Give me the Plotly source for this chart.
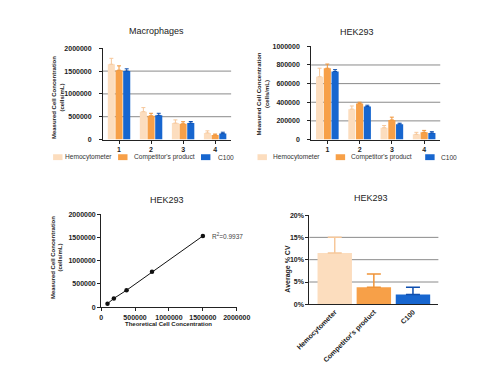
import plotly.graph_objects as go

W, H = 483, 367
def fx(x): return x / W
def fy(y): return 1 - y / H

# ---------------- data ----------------
groups = ["1", "2", "3", "4"]
series = ["Hemocytometer", "Competitor's product", "C100"]
colors = ["#FCDDBE", "#F7A048", "#1766CF"]
err_colors = ["#F6C79A", "#F09438", "#0E4EAE"]

mac_hemo = [1650000, 610000, 360000, 145000]
mac_hemo_err = [130000, 90000, 70000, 45000]
mac_comp = [1520000, 520000, 345000, 100000]
mac_comp_err = [95000, 55000, 45000, 20000]
mac_c100 = [1500000, 530000, 360000, 130000]
mac_c100_err = [50000, 45000, 35000, 30000]

hek_hemo = [674000, 326000, 126000, 56000]
hek_hemo_err = [91000, 34000, 24000, 21000]
hek_comp = [765000, 386000, 210000, 77000]
hek_comp_err = [45000, 14000, 30000, 21000]
hek_c100 = [730000, 354000, 165000, 70000]
hek_c100_err = [20000, 14000, 10000, 14000]

theo_conc = [93750, 187500, 375000, 750000, 1500000]
meas_conc = [77000, 190000, 365000, 760000, 1530000]
r2_text = "R<sup>2</sup>=0.9937"

cv_methods = ["Hemocytometer", "Competitor's product", "C100"]
cv_values = [11.5, 3.8, 2.2]
cv_err = [3.5, 3.0, 1.6]

mac_ticks = [0, 500000, 1000000, 1500000, 2000000]
mac_ticktext = ["0", "500000", "1000000", "1500000", "2000000"]
hek_ticks = [0, 200000, 400000, 600000, 800000, 1000000]
hek_ticktext = ["0", "200000", "400000", "600000", "800000", "1000000"]
lin_ticks = [0, 500000, 1000000, 1500000, 2000000]
lin_ticktext = ["0", "500000", "1000000", "1500000", "2000000"]
cv_ticks = [0, 5, 10, 15, 20]
cv_ticktext = ["0%", "5%", "10%", "15%", "20%"]

# ---------------- figure ----------------
fig = go.Figure()
FONT = "Liberation Sans, Arial, sans-serif"
TXT = "#222222"

mac_vals = [(mac_hemo, mac_hemo_err), (mac_comp, mac_comp_err), (mac_c100, mac_c100_err)]
hek_vals = [(hek_hemo, hek_hemo_err), (hek_comp, hek_comp_err), (hek_c100, hek_c100_err)]

for (vals, errs), name, c, ec in zip(mac_vals, series, colors, err_colors):
    fig.add_trace(go.Bar(x=groups, y=vals, name=name, marker=dict(color=c, line=dict(width=0)),
                         error_y=dict(type="data", symmetric=False, array=errs,
                                      arrayminus=[0] * len(errs), color=ec, thickness=1, width=2),
                         xaxis="x", yaxis="y", showlegend=False))
for (vals, errs), name, c, ec in zip(hek_vals, series, colors, err_colors):
    fig.add_trace(go.Bar(x=groups, y=vals, name=name, marker=dict(color=c, line=dict(width=0)),
                         error_y=dict(type="data", symmetric=False, array=errs,
                                      arrayminus=[0] * len(errs), color=ec, thickness=1, width=2),
                         xaxis="x2", yaxis="y2", showlegend=False))

fig.add_trace(go.Scatter(x=theo_conc, y=meas_conc, mode="lines+markers",
                         line=dict(color="#111111", width=1),
                         marker=dict(color="#111111", size=4.5),
                         xaxis="x3", yaxis="y3", showlegend=False))

fig.add_trace(go.Bar(x=cv_methods, y=cv_values, width=0.88,
                     marker=dict(color=colors, line=dict(width=0)),
                     xaxis="x4", yaxis="y4", showlegend=False))
for m, v, e, ec in zip(cv_methods, cv_values, cv_err, err_colors):
    fig.add_trace(go.Scatter(x=[m], y=[v], mode="markers", marker=dict(size=1, color="rgba(0,0,0,0)"),
                             error_y=dict(type="data", symmetric=False, array=[e], arrayminus=[0],
                                          color=ec, thickness=1.5, width=7),
                             xaxis="x4", yaxis="y4", showlegend=False, hoverinfo="skip"))

tickfont = dict(family=FONT, size=7, color=TXT, weight="bold")

def yax(domain, ticks, ticktext, rng, standoff=0):
    return dict(domain=domain, range=rng, tickvals=ticks, ticktext=ticktext, showgrid=False,
                zeroline=False, showline=True, linecolor="#222222", linewidth=1,
                ticks="outside", ticklen=3, tickcolor="#222222", tickfont=tickfont, fixedrange=True,
                ticklabelstandoff=standoff)

def xax(domain, anchor, **kw):
    d = dict(domain=domain, anchor=anchor, showgrid=False, zeroline=False, showline=True,
             linecolor="#222222", linewidth=1, ticks="outside", ticklen=3, tickcolor="#222222",
             tickfont=tickfont, fixedrange=True)
    d.update(kw)
    return d

layout = dict(
    width=W, height=H, margin=dict(l=0, r=0, t=0, b=0),
    paper_bgcolor="white", plot_bgcolor="white",
    font=dict(family=FONT, color=TXT),
    barmode="group", bargap=0.28, bargroupgap=0.08,
    xaxis=xax([fx(86), fx(222)], "y", type="category"),
    yaxis=yax([fy(130), fy(37)], mac_ticks, mac_ticktext, [0, 2000000], 6) | dict(anchor="x"),
    xaxis2=xax([fx(307), fx(444)], "y2", type="category"),
    yaxis2=yax([fy(130), fy(35)], hek_ticks, hek_ticktext, [0, 1000000], 6) | dict(anchor="x2"),
    xaxis3=xax([fx(84), fx(228)], "y3", range=[0, 2000000], tickvals=lin_ticks, ticktext=lin_ticktext),
    yaxis3=yax([fy(301), fy(206)], lin_ticks, lin_ticktext, [0, 2000000]) | dict(anchor="x3"),
    xaxis4=xax([fx(305), fx(442)], "y4", type="category", tickangle=-45, ticks="",
               range=[-0.65, 2.65]),
    yaxis4=yax([fy(298), fy(207)], cv_ticks, cv_ticktext, [0, 20]) | dict(anchor="x4"),
)
fig.update_layout(**layout)

shapes = []
def grid(xa, ya, vals):
    for v in vals:
        shapes.append(dict(type="line", xref=f"{xa} domain", yref=ya, x0=0, x1=1, y0=v, y1=v,
                           line=dict(color="#8a8a8a", width=1), layer="below"))
grid("x", "y", mac_ticks[1:-1])
grid("x2", "y2", hek_ticks[1:-1])
grid("x4", "y4", cv_ticks[1:-1])

annotations = []
def text(x, y, s, size, bold=False, angle=0, anchor="center", color=TXT):
    annotations.append(dict(xref="paper", yref="paper", x=fx(x), y=fy(y), text=s, showarrow=False,
                            textangle=angle, xanchor=anchor, yanchor="middle",
                            font=dict(family=FONT, size=size, color=color,
                                      weight="bold" if bold else "normal")))

# titles
text(143, 19, "Macrophages", 9)
text(356, 20, "HEK293", 9)
text(154, 192, "HEK293", 9)
text(370, 190, "HEK293", 9)

ytitle = "Measured Cell Concentration<br>(cells/mL)"
text(39, 87, ytitle, 6, bold=True, angle=-90)
text(256, 84, ytitle, 6, bold=True, angle=-90)
text(37, 250, ytitle, 6, bold=True, angle=-90)
text(282, 262, "Average % CV", 7, bold=True, angle=-90)
text(155, 318, "Theoretical Cell Concentration", 6, bold=True)

annotations.append(dict(xref="x3", yref="y3", x=theo_conc[-1], y=meas_conc[-1], text=r2_text,
                        showarrow=False, xanchor="left", yanchor="middle", xshift=7,
                        font=dict(family=FONT, size=6.5, color="#444444")))

# legends
def legend(items):
    for (sx, tx), name, c in zip(items, series, colors):
        shapes.append(dict(type="rect", xref="paper", yref="paper",
                           x0=fx(sx), x1=fx(sx + 10), y0=fy(151), y1=fy(145),
                           fillcolor=c, line=dict(width=0)))
        text(tx, 148, name, 6.6, anchor="left", color="#333333")

legend([(33, 44), (102, 117), (190, 206)])
legend([(250, 264), (333, 347), (428, 443)])

fig.update_layout(shapes=shapes, annotations=annotations)
fig.write_html("out.html")
